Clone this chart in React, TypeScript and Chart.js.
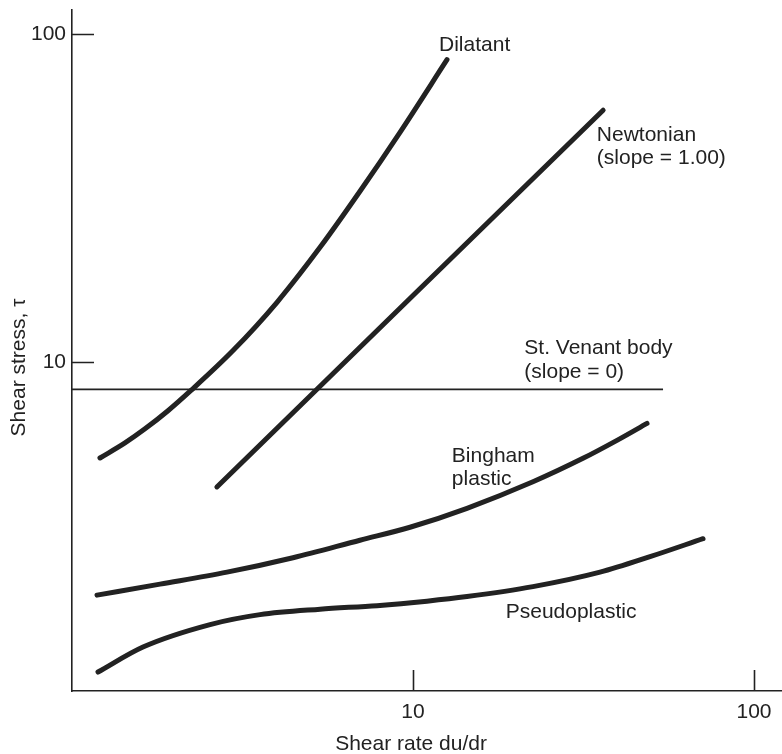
import React, { useEffect, useRef } from "react";
import { Chart, registerables } from "chart.js";

Chart.register(...registerables);

// ---- data (log-log: shear rate vs shear stress) ----
const dilatantX = [1.208, 1.43, 1.637, 1.912, 2.233, 2.966, 3.992, 5.338, 6.99, 9.16, 12.58];
const dilatantY = [5.12, 5.69, 6.28, 7.13, 8.22, 10.87, 15.25, 22.41, 33.2, 50.2, 83.5];

const newtonianX = [2.66, 10, 36.1];
const newtonianY = [4.18, 16.0, 58.6];

const stVenantX = [1, 54.1];
const stVenantY = [8.28, 8.28];

const binghamX = [1.184, 1.812, 2.848, 4.447, 6.99, 9.8, 14.4, 22.48, 31.51, 39.64, 48.55];
const binghamY = [1.958, 2.115, 2.3, 2.545, 2.877, 3.151, 3.599, 4.334, 5.108, 5.794, 6.525];

const pseudoX = [1.192, 1.615, 2.54, 3.559, 5.338, 7.844, 10.99, 14.4, 22.48, 35.35, 49.55, 70.87];
const pseudoY = [1.142, 1.361, 1.593, 1.708, 1.775, 1.819, 1.877, 1.938, 2.078, 2.3, 2.564, 2.908];

const xTickValues = [10, 100];
const yTickValues = [10, 100];
const xRange = [1, 120.8];
const yRange = [1, 118.3];

const xTitle = "Shear rate du/dr";
const yTitle = "Shear stress, \u03c4";

// curve annotations: text, anchor x value, baseline y value
const labelTexts = [
  "Dilatant",
  "Newtonian",
  "(slope = 1.00)",
  "St. Venant body",
  "(slope = 0)",
  "Bingham",
  "plastic",
  "Pseudoplastic",
];
const labelX = [11.92, 34.6, 34.6, 21.2, 21.2, 13.0, 13.0, 18.7];
const labelY = [88.8, 47.3, 40.3, 10.6, 9.0, 4.97, 4.23, 1.667];

const FAMILY = "'Liberation Sans', Arial, sans-serif";
const FONT = "21px " + FAMILY;
const INK = "#222222";

function pts(xs: number[], ys: number[]) {
  return xs.map((x, i) => ({ x, y: ys[i] }));
}

const decorPlugin = {
  id: "decor",
  afterDraw(chart: any) {
    const ctx = chart.ctx;
    const xs = chart.scales.x;
    const ys = chart.scales.y;
    const area = chart.chartArea;
    ctx.save();
    // inward tick marks
    ctx.strokeStyle = INK;
    ctx.lineWidth = 1.6;
    ctx.beginPath();
    xTickValues.forEach((v) => {
      const px = Math.round(xs.getPixelForValue(v)) + 0.5;
      ctx.moveTo(px, area.bottom);
      ctx.lineTo(px, area.bottom - 21);
    });
    yTickValues.forEach((v) => {
      const py = Math.round(ys.getPixelForValue(v)) + 0.5;
      ctx.moveTo(area.left, py);
      ctx.lineTo(area.left + 22, py);
    });
    ctx.stroke();

    // curve labels
    ctx.fillStyle = INK;
    ctx.font = FONT;
    ctx.textAlign = "left";
    ctx.textBaseline = "alphabetic";
    labelTexts.forEach((t, i) => {
      ctx.fillText(t, xs.getPixelForValue(labelX[i]), ys.getPixelForValue(labelY[i]));
    });

    // axis titles
    ctx.textAlign = "center";
    ctx.fillText(xTitle, xs.getPixelForValue(10) - 2, 750);
    ctx.save();
    ctx.translate(25, ys.getPixelForValue(10) + 5);
    ctx.rotate(-Math.PI / 2);
    ctx.fillText(yTitle, 0, 0);
    ctx.restore();
    ctx.restore();
  },
};

export default function App() {
  const ref = useRef<HTMLCanvasElement | null>(null);
  useEffect(() => {
    if (!ref.current) return;
    const thick = (data: any) => ({
      data,
      borderColor: INK,
      borderWidth: 5,
      pointRadius: 0,
      tension: 0.4,
      cubicInterpolationMode: "monotone",
      borderCapStyle: "round",
      fill: false,
    });
    const chart = new Chart(ref.current, {
      type: "line",
      data: {
        datasets: [
          { label: "Dilatant", ...thick(pts(dilatantX, dilatantY)) },
          { label: "Newtonian", ...thick(pts(newtonianX, newtonianY)), tension: 0, cubicInterpolationMode: "default" },
          {
            label: "St. Venant body",
            data: pts(stVenantX, stVenantY),
            borderColor: INK,
            borderWidth: 1.6,
            pointRadius: 0,
            tension: 0,
          },
          { label: "Bingham plastic", ...thick(pts(binghamX, binghamY)) },
          { label: "Pseudoplastic", ...thick(pts(pseudoX, pseudoY)) },
        ] as any,
      },
      options: {
        animation: false,
        responsive: false,
        devicePixelRatio: 1,
        layout: { padding: { top: 10, right: 0, left: 0, bottom: 0 } },
        plugins: {
          legend: { display: false },
          tooltip: { enabled: false },
        },
        scales: {
          x: {
            type: "logarithmic",
            min: xRange[0],
            max: xRange[1],
            afterBuildTicks: (s: any) => {
              s.ticks = xTickValues.map((value) => ({ value }));
            },
            afterFit: (s: any) => {
              s.height = 63;
              s.paddingLeft = 0;
              s.paddingRight = 0;
            },
            grid: { display: false, drawTicks: false },
            border: { display: true, color: INK, width: 1.6 },
            ticks: {
              padding: 9,
              color: INK,
              maxRotation: 0,
              autoSkip: false,
              font: { family: FAMILY, size: 21 },
              callback: (v: any) => String(v),
            },
          },
          y: {
            type: "logarithmic",
            min: yRange[0],
            max: yRange[1],
            afterBuildTicks: (s: any) => {
              s.ticks = yTickValues.map((value) => ({ value }));
            },
            afterFit: (s: any) => {
              s.width = 72;
              s.paddingTop = 0;
              s.paddingBottom = 0;
            },
            grid: { display: false, drawTicks: false },
            border: { display: true, color: INK, width: 1.6 },
            ticks: {
              padding: 6,
              color: INK,
              autoSkip: false,
              font: { family: FAMILY, size: 21 },
              callback: (v: any) => String(v),
            },
          },
        },
      } as any,
      plugins: [decorPlugin],
    });
    return () => chart.destroy();
  }, []);
  return (
    <div style={{ position: "absolute", left: 0, top: 0, width: 782, height: 754, background: "#fff" }}>
      <canvas ref={ref} width={782} height={754} style={{ display: "block" }} />
    </div>
  );
}
